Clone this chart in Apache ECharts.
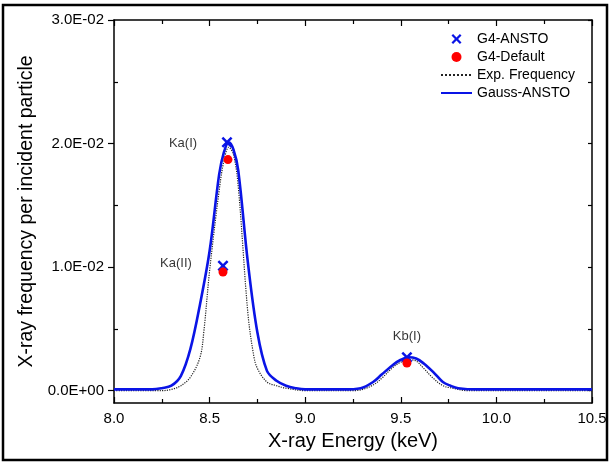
<!DOCTYPE html>
<html><head><meta charset="utf-8">
<script src="https://cdn.jsdelivr.net/npm/echarts@6/dist/echarts.min.js"></script>
<style>html,body{margin:0;padding:0;background:#fff}#c{width:615px;height:463px}</style>
</head><body><div id="c"></div>
<script>
// ---- data ----
const gaussEnergy = [8.00, 8.20, 8.25, 8.30, 8.35, 8.40, 8.45, 8.50, 8.55, 8.575,
  8.60, 8.625, 8.65, 8.70, 8.75, 8.80, 8.85, 8.90, 8.95, 9.00,
  9.20, 9.29, 9.355, 9.40, 9.46, 9.50, 9.54, 9.58, 9.62, 9.67,
  9.72, 9.76, 9.80, 9.90, 10.50];
const gaussFreq = [0.0001, 0.0001, 0.0002, 0.0004, 0.0012, 0.0034, 0.0070, 0.0113, 0.0175, 0.0193,
  0.0201, 0.0195, 0.0178, 0.0104, 0.0047, 0.0016, 0.0008, 0.0004, 0.0002, 0.0001,
  0.0001, 0.0002, 0.0007, 0.0013, 0.0021, 0.0025, 0.0027, 0.0026, 0.0022, 0.0015,
  0.0007, 0.0004, 0.0002, 0.0001, 0.0001];

const expEnergy = [8.00, 8.25, 8.30, 8.35, 8.40, 8.45, 8.47, 8.50, 8.55, 8.575,
  8.60, 8.625, 8.65, 8.70, 8.73, 8.75, 8.80, 8.85, 8.90, 9.00,
  9.25, 9.30, 9.36, 9.40, 9.46, 9.50, 9.54, 9.58, 9.62, 9.67,
  9.72, 9.77, 9.85, 10.50];
const expFreq = [0.0000, 0.0000, 0.0001, 0.0004, 0.0011, 0.0027, 0.0048, 0.0097, 0.0162, 0.0186,
  0.0197, 0.0191, 0.0165, 0.0063, 0.0029, 0.0018, 0.0007, 0.0004, 0.0002, 0.0000,
  0.0000, 0.0001, 0.0005, 0.0010, 0.0019, 0.0023, 0.0025, 0.0024, 0.0018, 0.0010,
  0.0004, 0.0002, 0.0000, 0.0000];

const anstoEnergy = [8.591, 8.570, 9.532];
const anstoFreq = [0.0201, 0.0101, 0.0027];

const defaultEnergy = [8.596, 8.570, 9.532];
const defaultFreq = [0.0187, 0.0096, 0.00224];

const peakNames = ['Ka(I)', 'Ka(II)', 'Kb(I)'];
const peakNameEnergy = [8.361, 8.324, 9.532];
const peakNameFreq = [0.0200, 0.0103, 0.0044];

const seriesNames = ['G4-ANSTO', 'G4-Default', 'Exp. Frequency', 'Gauss-ANSTO'];
const yMajorTicks = [0, 0.01, 0.02, 0.03];
const yMinorTicks = [0.005, 0.015, 0.025];
const yAllTicks = [0, 0.005, 0.01, 0.015, 0.02, 0.025, 0.03];

// ---- chart ----
const zip = (a, b) => a.map((v, i) => [v, b[i]]);
const FONT = 'Liberation Sans, Arial, Helvetica, sans-serif';
const expFmt = v => v.toExponential(1).replace('e', 'E').replace(/([+-])(\d)$/, (m, s, d) => s + '0' + d);
const black = {color: '#000', width: 1.5};
const tickStyle = {color: '#000', width: 1.2};
const Y_MIN = -0.001, Y_MAX = 0.03;
const lineNames = ['Exp. Frequency', 'Gauss-ANSTO'];

const chart = echarts.init(document.getElementById('c'), null, {renderer: 'canvas'});
chart.setOption({
  animation: false,
  backgroundColor: '#fff',
  textStyle: {fontFamily: FONT},
  grid: {left: 114, right: 23, top: 20, bottom: 60, containLabel: false, outerBoundsMode: 'none'},
  graphic: [{
    type: 'rect', shape: {x: 3, y: 5, width: 604, height: 455},
    style: {fill: 'none', stroke: '#000', lineWidth: 2.5}, silent: true, z: 100
  }],
  legend: {
    orient: 'vertical', left: 440, top: 32, padding: 0,
    itemWidth: 31, itemHeight: 10, itemGap: 4,
    textStyle: {fontSize: 14, color: '#000', fontFamily: FONT},
    data: seriesNames.map(n => lineNames.includes(n) ? {name: n, itemStyle: {opacity: 0}} : {name: n})
  },
  xAxis: [{
    type: 'value', position: 'bottom', min: 8, max: 10.5, interval: 0.5,
    axisLine: {onZero: false, lineStyle: black},
    axisTick: {inside: true, length: 6, lineStyle: tickStyle},
    minorTick: {show: true, splitNumber: 2, length: 4, lineStyle: tickStyle},
    splitLine: {show: false},
    axisLabel: {formatter: v => v.toFixed(1), fontSize: 15, color: '#000', margin: 8, fontFamily: FONT},
    name: 'X-ray Energy (keV)', nameLocation: 'middle', nameGap: 28,
    nameTextStyle: {fontSize: 20, color: '#000', fontFamily: FONT}
  }, {
    type: 'value', position: 'top', min: 8, max: 10.5, interval: 0.5,
    axisLine: {onZero: false, lineStyle: black},
    axisTick: {inside: true, length: 6, lineStyle: tickStyle},
    minorTick: {show: true, splitNumber: 2, length: 4, lineStyle: tickStyle},
    splitLine: {show: false}, axisLabel: {show: false}
  }],
  yAxis: [{
    type: 'value', position: 'left', min: Y_MIN, max: Y_MAX,
    axisLine: {onZero: false, lineStyle: black},
    axisTick: {inside: false, length: 6, lineStyle: tickStyle, customValues: yMajorTicks},
    splitLine: {show: false},
    axisLabel: {customValues: yMajorTicks, formatter: expFmt, fontSize: 15, color: '#000', margin: 10, fontFamily: FONT},
    name: 'X-ray frequency per incident particle', nameLocation: 'middle', nameRotate: 90, nameGap: 72,
    nameTextStyle: {fontSize: 19.5, color: '#000', fontFamily: FONT}
  }, {
    type: 'value', position: 'left', min: Y_MIN, max: Y_MAX,
    axisLine: {show: false},
    axisTick: {inside: true, length: 4, lineStyle: tickStyle, customValues: yMinorTicks},
    splitLine: {show: false}, axisLabel: {show: false}
  }, {
    type: 'value', position: 'right', min: Y_MIN, max: Y_MAX,
    axisLine: {onZero: false, lineStyle: black},
    axisTick: {inside: true, length: 4, lineStyle: tickStyle, customValues: yAllTicks},
    splitLine: {show: false}, axisLabel: {show: false}
  }],
  series: [{
    name: 'Exp. Frequency', type: 'line', data: zip(expEnergy, expFreq),
    symbol: 'none', showSymbol: false, smooth: 0.35, z: 2,
    lineStyle: {color: '#222', width: 1.2, type: 'dotted'}, itemStyle: {color: '#222'}
  }, {
    name: 'Gauss-ANSTO', type: 'line', data: zip(gaussEnergy, gaussFreq),
    symbol: 'none', showSymbol: false, smooth: 0.35, z: 3,
    lineStyle: {color: '#0a14e6', width: 2.6}, itemStyle: {color: '#0a14e6'}
  }, {
    name: 'G4-ANSTO', type: 'scatter', data: zip(anstoEnergy, anstoFreq), z: 4,
    symbol: 'path://M0,1.6 L1.6,0 L5,3.4 L8.4,0 L10,1.6 L6.6,5 L10,8.4 L8.4,10 L5,6.6 L1.6,10 L0,8.4 L3.4,5 Z',
    symbolSize: 11, itemStyle: {color: '#0a14e6', opacity: 1}
  }, {
    name: 'G4-Default', type: 'scatter', data: zip(defaultEnergy, defaultFreq), z: 5,
    symbol: 'circle', symbolSize: 9, itemStyle: {color: '#ff0000', opacity: 1}
  }, {
    name: 'peak labels', type: 'scatter', z: 6, silent: true,
    symbolSize: 0,
    data: peakNames.map((n, i) => ({name: n, value: [peakNameEnergy[i], peakNameFreq[i]]})),
    label: {show: true, position: 'inside', formatter: p => p.name, fontSize: 13, color: '#000', fontFamily: FONT}
  }]
});
</script></body></html>
